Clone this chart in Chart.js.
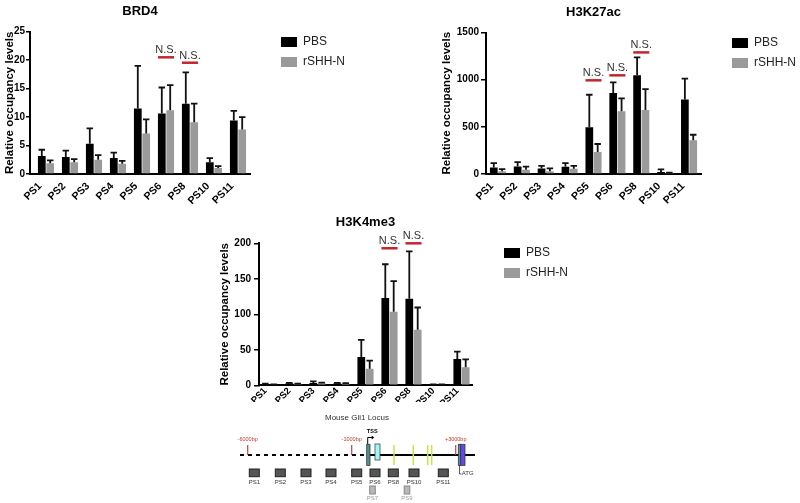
<!DOCTYPE html>
<html>
<head>
<meta charset="utf-8">
<script src="https://cdn.jsdelivr.net/npm/chart.js@4.4.1/dist/chart.umd.min.js"></script>
<style>
html,body{margin:0;padding:0;background:#fff;}
body{width:800px;height:503px;position:relative;overflow:hidden;}
canvas{position:absolute;}
</style>
</head>
<body>
<canvas id="cA" width="380" height="212" style="left:0;top:0"></canvas>
<canvas id="cB" width="400" height="212" style="left:400px;top:0"></canvas>
<canvas id="cC" width="380" height="205" style="left:200px;top:205px"></canvas>
<canvas id="cD" width="300" height="101" style="left:200px;top:402px"></canvas>
<script>
// ---------------- data ----------------
const categories = ['PS1','PS2','PS3','PS4','PS5','PS6','PS8','PS10','PS11'];
const seriesLabels = ['PBS','rSHH-N'];

// BRD4
const brd4Ticks = [0,5,10,15,20,25];
const brd4PBS   = [3.16, 3.0, 5.3, 2.8, 11.5, 10.65, 12.35, 2.05, 9.4];
const brd4PBSsd = [1.1, 1.1, 2.7, 0.95, 7.5, 4.55, 5.5, 0.75, 1.7];
const brd4SHH   = [1.87, 2.05, 2.5, 1.8, 7.1, 11.2, 9.1, 1.05, 7.8];
const brd4SHHsd = [0.53, 0.55, 0.8, 0.5, 2.5, 4.4, 3.25, 0.35, 2.2];
const brd4NSSites  = ['PS6','PS8'];
const brd4NSLevels = [20.5, 19.55];

// H3K27ac
const k27Ticks = [0,500,1000,1500];
const k27PBS   = [68, 80, 58, 77, 495, 858, 1048, 22, 790];
const k27PBSsd = [47, 45, 28, 38, 345, 114, 188, 26, 220];
const k27SHH   = [30, 45, 30, 55, 232, 665, 678, 10, 358];
const k27SHHsd = [22, 33, 30, 31, 86, 137, 222, 4, 58];
const k27NSSites  = ['PS5','PS6','PS8'];
const k27NSLevels = [993, 1046, 1289];

// H3K4me3
const k4Ticks = [0,50,100,150,200];
const k4PBS   = [1.9, 2.8, 3.3, 2.8, 39.8, 123, 121.8, 1.0, 37];
const k4PBSsd = [0.4, 0.5, 2.3, 0.5, 24.2, 47.5, 66.7, 0.4, 10.3];
const k4SHH   = [1.0, 1.9, 2.8, 2.3, 23.4, 103.5, 78.2, 1.0, 25.3];
const k4SHHsd = [0.4, 0.4, 0.9, 0.7, 11.3, 43.1, 31.4, 0.4, 11.2];
const k4NSSites  = ['PS6','PS8'];
const k4NSLevels = [193, 200];

// Mouse Gli1 locus schematic (map positions along the locus)
const locusSites      = ['PS1','PS2','PS3','PS4','PS5','PS6','PS8','PS10','PS11'];
const locusSitePos    = [54.3, 80.3, 106, 131, 156.7, 175, 193.3, 214, 243.3];
const locusMinorSites = ['PS7','PS9'];
const locusMinorPos   = [172.5, 207];
const locusMarkLabels = ['-6000bp','-1000bp','+3000bp'];
const locusMarkPos    = [47.7, 151.7, 255.7];
const locusGreenPos   = [194, 213.3, 227.7, 231.7];
const locusExonStart  = [166.7, 175, 258.3, 260.7];
const locusExonEnd    = [170, 180, 260.7, 265];
const locusExonKind   = ['utr','cds','utr','atg'];
const locusLine       = [40, 166.7, 275]; // start, TSS, end
const locusTSS        = 167.7;

// ---------------- plugins ----------------
const FONT = "'Liberation Sans', Arial, Helvetica, sans-serif";
Chart.defaults.font.family = FONT;

const errorBars = {
  id: 'errorBars',
  afterDatasetsDraw(chart) {
    const ctx = chart.ctx, y = chart.scales.y;
    chart.data.datasets.forEach((ds, i) => {
      if (!ds.errors) return;
      const meta = chart.getDatasetMeta(i);
      ctx.save();
      ctx.strokeStyle = '#111';
      ctx.lineWidth = 1.8;
      meta.data.forEach((bar, j) => {
        const v = ds.data[j].y, e = ds.errors[j];
        const top = y.getPixelForValue(v + e);
        const half = bar.width * 0.42;
        ctx.beginPath();
        ctx.moveTo(bar.x, bar.y);
        ctx.lineTo(bar.x, top);
        ctx.moveTo(bar.x - half, top);
        ctx.lineTo(bar.x + half, top);
        ctx.stroke();
      });
      ctx.restore();
    });
  }
};

const nsMarks = {
  id: 'nsMarks',
  afterDatasetsDraw(chart, args, opts) {
    if (!opts || !opts.sites) return;
    const ctx = chart.ctx;
    const m0 = chart.getDatasetMeta(0), m1 = chart.getDatasetMeta(1);
    opts.sites.forEach((s, k) => {
      const j = categories.indexOf(s);
      const b0 = m0.data[j], b1 = m1.data[j];
      const x0 = b0.x - b0.width / 2, x1 = b1.x + b1.width / 2;
      const yy = chart.scales.y.getPixelForValue(opts.levels[k]);
      ctx.save();
      ctx.strokeStyle = '#c4262e';
      ctx.lineWidth = 2.5;
      ctx.beginPath();
      ctx.moveTo(x0, yy);
      ctx.lineTo(x1, yy);
      ctx.stroke();
      ctx.fillStyle = '#333';
      ctx.font = '11px ' + FONT;
      ctx.textAlign = 'center';
      ctx.textBaseline = 'alphabetic';
      ctx.fillText('N.S.', (x0 + x1) / 2, yy - 4);
      ctx.restore();
    });
  }
};

const legendPlace = {
  id: 'legendPlace',
  afterLayout(chart, args, opts) {
    const lg = chart.legend;
    if (!lg || !opts || opts.left == null) return;
    lg.left = opts.left; lg.top = opts.top;
    lg.width = 130; lg.height = 80;
    lg.right = opts.left + 130; lg.bottom = opts.top + 80;
  }
};

function barChart(id, title, pbs, pbsSd, shh, shhSd, yTicks, nsSites, nsLevels, lay) {
  return new Chart(document.getElementById(id), {
    type: 'bar',
    data: {
      datasets: [
        { label: seriesLabels[0], data: pbs.map((v, i) => ({x: i + 1, y: v})), errors: pbsSd,
          backgroundColor: '#000000', borderWidth: 0, categoryPercentage: 0.7, barPercentage: 0.92 },
        { label: seriesLabels[1], data: shh.map((v, i) => ({x: i + 1, y: v})), errors: shhSd,
          backgroundColor: '#9a9a9a', borderWidth: 0, categoryPercentage: 0.7, barPercentage: 0.92 }
      ]
    },
    options: {
      responsive: false,
      animation: false,
      events: [],
      layout: { padding: { left: 0, top: 0, right: lay.padRight, bottom: 0 } },
      scales: {
        x: {
          type: 'linear', min: lay.xMin, max: lay.xMax, offset: false,
          afterBuildTicks: s => { s.ticks = categories.map((c, i) => ({ value: i + 1 })); },
          afterFit: s => { s.height = lay.xHeight; },
          ticks: { autoSkip: false, minRotation: 45, maxRotation: 45, padding: lay.xPad, labelOffset: lay.xOff,
                   color: '#000', font: { size: lay.xFont, weight: 'bold' },
                   callback: v => categories[Math.round(v) - 1] },
          grid: { display: false },
          border: { display: true, color: '#000', width: 2 }
        },
        y: {
          min: yTicks[0], max: yTicks[yTicks.length - 1],
          afterBuildTicks: s => { s.ticks = yTicks.map(v => ({ value: v })); },
          afterFit: s => { s.width = lay.yWidth; },
          ticks: { padding: lay.tickPad, color: '#000', font: { size: 10, weight: 'bold' },
                   callback: v => String(v) },
          grid: { display: true, drawOnChartArea: false, drawTicks: true, tickLength: lay.tickLen,
                  color: '#000', lineWidth: 1.5 },
          border: { display: true, color: '#000', width: 2 },
          title: { display: true, text: 'Relative occupancy levels', color: '#000',
                   font: { size: 11.5, weight: 'bold' }, padding: { top: lay.yTitlePad, bottom: 0 } }
        }
      },
      plugins: {
        title: { display: true, text: title, fullSize: false, color: '#000',
                 font: { size: 13, weight: 'bold' }, padding: { top: lay.titleTop, bottom: lay.titleBottom } },
        legend: { position: 'chartArea', align: 'start',
                  labels: { boxWidth: 16, boxHeight: 10, padding: 8, color: '#222', font: { size: 12 } } },
        tooltip: { enabled: false },
        legendPlace: { left: lay.legLeft, top: lay.legTop },
        nsMarks: { sites: nsSites, levels: nsLevels }
      }
    },
    plugins: [errorBars, nsMarks, legendPlace]
  });
}

barChart('cA', 'BRD4', brd4PBS, brd4PBSsd, brd4SHH, brd4SHHsd, brd4Ticks, brd4NSSites, brd4NSLevels,
  { padRight: 130, xMin: 0.3333, xMax: 9.5, xHeight: 38, xPad: -2, xOff: -6, xFont: 10.5,
    yWidth: 30, tickPad: 1, tickLen: 4,
    yTitlePad: 2.8, titleTop: 3.2, titleBottom: 12.9, legLeft: 273, legTop: 28 });

barChart('cB', 'H3K27ac', k27PBS, k27PBSsd, k27SHH, k27SHHsd, k27Ticks, k27NSSites, k27NSLevels,
  { padRight: 99, xMin: 0.5, xMax: 9.5, xHeight: 38, xPad: -2, xOff: -6, xFont: 10.5,
    yWidth: 86, tickPad: 2, tickLen: 5,
    yTitlePad: 39.8, titleTop: 4.5, titleBottom: 12.4, legLeft: 324, legTop: 29 });

barChart('cC', 'H3K4me3', k4PBS, k4PBSsd, k4SHH, k4SHHsd, k4Ticks, k4NSSites, k4NSLevels,
  { padRight: 108, xMin: 0.5625, xMax: 9.4375, xHeight: 24.7, xPad: -8, xOff: -4, xFont: 9.5,
    yWidth: 59, tickPad: 3, tickLen: 5,
    yTitlePad: 18.1, titleTop: 9.4, titleBottom: 13.3, legLeft: 296, legTop: 34 });

// ---------------- locus schematic ----------------
const locusDraw = {
  id: 'locusDraw',
  beforeDraw(chart) {
    const ctx = chart.ctx;
    ctx.save(); ctx.fillStyle = '#fff'; ctx.fillRect(0, 0, chart.width, chart.height); ctx.restore();
  },
  afterDraw(chart) {
    const ctx = chart.ctx, X = v => chart.scales.x.getPixelForValue(v), Y = v => chart.scales.y.getPixelForValue(v);
    ctx.save();
    // title
    ctx.fillStyle = '#333'; ctx.font = '8px ' + FONT; ctx.textAlign = 'center'; ctx.textBaseline = 'middle';
    ctx.fillText('Mouse Gli1 Locus', X(157), Y(16));
    // main line
    ctx.strokeStyle = '#000'; ctx.lineWidth = 2;
    ctx.setLineDash([4, 4]);
    ctx.beginPath(); ctx.moveTo(X(locusLine[0]), Y(53)); ctx.lineTo(X(locusLine[1]), Y(53)); ctx.stroke();
    ctx.setLineDash([]);
    ctx.beginPath(); ctx.moveTo(X(locusLine[1]), Y(53)); ctx.lineTo(X(locusLine[2]), Y(53)); ctx.stroke();
    // bp markers
    locusMarkPos.forEach((p, i) => {
      ctx.strokeStyle = '#b5474b'; ctx.lineWidth = 1.2;
      ctx.beginPath(); ctx.moveTo(X(p), Y(43)); ctx.lineTo(X(p), Y(53)); ctx.stroke();
      ctx.fillStyle = '#c0392b'; ctx.font = '5.5px ' + FONT; ctx.textAlign = 'center'; ctx.textBaseline = 'middle';
      ctx.fillText(locusMarkLabels[i], X(p), Y(37.5));
    });
    // green marks
    ctx.strokeStyle = '#c5e64a'; ctx.lineWidth = 1.5;
    locusGreenPos.forEach(p => { ctx.beginPath(); ctx.moveTo(X(p), Y(43)); ctx.lineTo(X(p), Y(63)); ctx.stroke(); });
    // exons
    locusExonStart.forEach((s, i) => {
      const k = locusExonKind[i];
      const top = k === 'cds' ? 42 : 42.3, bot = k === 'cds' ? 58 : 63.5;
      ctx.fillStyle = k === 'cds' ? '#a9f3f3' : (k === 'atg' ? '#6a45f0' : '#5e8c8c');
      ctx.strokeStyle = k === 'cds' ? '#2d5060' : '#263f3f';
      ctx.lineWidth = 0.8;
      ctx.fillRect(X(s), Y(top), X(locusExonEnd[i]) - X(s), Y(bot) - Y(top));
      ctx.strokeRect(X(s), Y(top), X(locusExonEnd[i]) - X(s), Y(bot) - Y(top));
    });
    // TSS arrow
    ctx.strokeStyle = '#000'; ctx.lineWidth = 1;
    ctx.beginPath(); ctx.moveTo(X(locusTSS), Y(42)); ctx.lineTo(X(locusTSS), Y(35.5)); ctx.lineTo(X(locusTSS + 4.5), Y(35.5)); ctx.stroke();
    ctx.fillStyle = '#000';
    ctx.beginPath(); ctx.moveTo(X(locusTSS + 6.5), Y(35.5)); ctx.lineTo(X(locusTSS + 4), Y(33.5)); ctx.lineTo(X(locusTSS + 4), Y(37.5)); ctx.closePath(); ctx.fill();
    ctx.font = 'bold 5.5px ' + FONT; ctx.textAlign = 'center'; ctx.textBaseline = 'middle';
    ctx.fillText('TSS', X(locusTSS + 4.5), Y(29));
    // ATG bracket + label
    const atgX = (locusExonStart[2] + locusExonEnd[2]) / 2;
    ctx.strokeStyle = '#333'; ctx.lineWidth = 0.8;
    ctx.beginPath(); ctx.moveTo(X(atgX), Y(63.5)); ctx.lineTo(X(atgX), Y(72)); ctx.lineTo(X(atgX + 2), Y(72)); ctx.stroke();
    ctx.fillStyle = '#333'; ctx.font = '6px ' + FONT; ctx.textAlign = 'left';
    ctx.fillText('ATG', X(atgX + 2.3), Y(71.5));
    // primer sites
    ctx.textAlign = 'center'; ctx.font = '6px ' + FONT;
    locusSitePos.forEach((p, i) => {
      ctx.fillStyle = '#555'; ctx.strokeStyle = '#222'; ctx.lineWidth = 1;
      ctx.fillRect(X(p - 5), Y(67), X(p + 5) - X(p - 5), Y(74.7) - Y(67));
      ctx.strokeRect(X(p - 5), Y(67), X(p + 5) - X(p - 5), Y(74.7) - Y(67));
      ctx.fillStyle = '#333';
      ctx.fillText(locusSites[i], X(p), Y(80));
    });
    locusMinorPos.forEach((p, i) => {
      ctx.fillStyle = '#b8b8b8'; ctx.strokeStyle = '#888'; ctx.lineWidth = 1;
      ctx.fillRect(X(p - 2.8), Y(84), X(p + 2.8) - X(p - 2.8), Y(92) - Y(84));
      ctx.strokeRect(X(p - 2.8), Y(84), X(p + 2.8) - X(p - 2.8), Y(92) - Y(84));
      ctx.fillStyle = '#999';
      ctx.fillText(locusMinorSites[i], X(p), Y(96.5));
    });
    ctx.restore();
  }
};

new Chart(document.getElementById('cD'), {
  type: 'scatter',
  data: { datasets: [{ data: [] }] },
  options: {
    responsive: false, animation: false, events: [],
    layout: { padding: 0 },
    scales: {
      x: { type: 'linear', min: 0, max: 300, display: false },
      y: { type: 'linear', min: 0, max: 101, reverse: true, display: false }
    },
    plugins: { legend: { display: false }, tooltip: { enabled: false } }
  },
  plugins: [locusDraw]
});
</script>
</body>
</html>
